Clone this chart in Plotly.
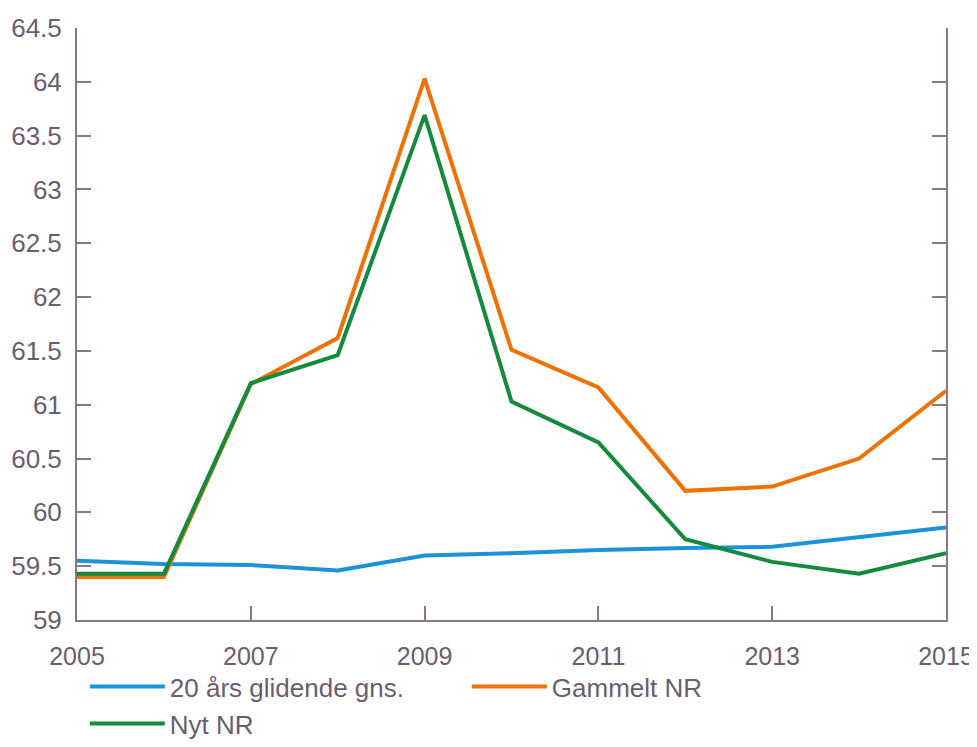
import plotly.graph_objects as go

years = [2005, 2006, 2007, 2008, 2009, 2010, 2011, 2012, 2013, 2014, 2015]
glidende = [59.55, 59.52, 59.51, 59.46, 59.60, 59.62, 59.65, 59.67, 59.68, 59.77, 59.86]
gammelt_nr = [59.40, 59.40, 61.19, 61.62, 64.03, 61.51, 61.16, 60.20, 60.24, 60.50, 61.13]
nyt_nr = [59.43, 59.43, 61.20, 61.46, 63.69, 61.03, 60.65, 59.75, 59.54, 59.43, 59.62]

axis_col = '#85798b'
text_col = '#6a5d72'
font_fam = 'Liberation Sans, Arial, sans-serif'

fig = go.Figure()
fig.add_trace(go.Scatter(x=years, y=glidende, name='20 års glidende gns.', mode='lines',
                         line=dict(color='#1b93d7', width=4)))
fig.add_trace(go.Scatter(x=years, y=gammelt_nr, name='Gammelt NR', mode='lines',
                         line=dict(color='#ee7203', width=4)))
fig.add_trace(go.Scatter(x=years, y=nyt_nr, name='Nyt NR', mode='lines',
                         line=dict(color='#138a3d', width=4)))

# page body has an 8px margin; keep height short enough to avoid a scrollbar
fig.update_layout(
    width=969, height=731,
    margin=dict(l=69, r=31, t=20, b=119, autoexpand=False),
    plot_bgcolor='white', paper_bgcolor='white',
    font=dict(family=font_fam, color=text_col, size=26),
    showlegend=True,
    legend=dict(orientation='h', x=0.009, xanchor='left', y=-0.073, yanchor='top',
                traceorder='normal', entrywidth=292, entrywidthmode='pixels',
                itemwidth=75, font=dict(size=26), tracegroupgap=0,
                bgcolor='rgba(0,0,0,0)'),
)
fig.update_xaxes(range=[2005, 2015], tickvals=[2005, 2007, 2009, 2011, 2013, 2015],
                 showgrid=False, zeroline=False, showline=True, linecolor=axis_col,
                 linewidth=2, ticks='inside', ticklen=14, tickwidth=2, tickcolor=axis_col,
                 ticklabelstandoff=13, ticklabeloverflow='allow', tickfont=dict(size=25))
fig.update_yaxes(range=[59, 64.5], dtick=0.5, tickformat='.1~f',
                 showgrid=False, zeroline=False, showline=True, linecolor=axis_col,
                 linewidth=2, ticks='inside', ticklen=14, tickwidth=2, tickcolor=axis_col,
                 mirror='allticks', ticklabelstandoff=8)

fig.write_html("out.html")
